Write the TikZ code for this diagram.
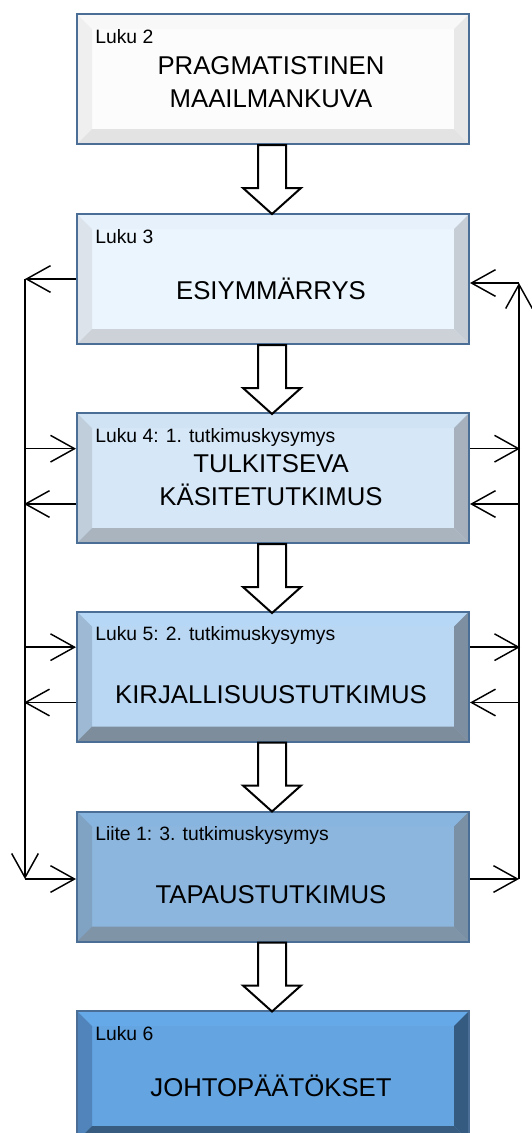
\documentclass[tikz,border=0pt]{standalone}
\usepackage{fontspec}
\setmainfont{Liberation Sans}
\usepackage{tikz}
\usetikzlibrary{arrows.meta}

\definecolor{edge}{HTML}{4A6E96}
% fill, top, left, right, bottom of each stage
\definecolor{sa}{HTML}{FCFCFC}\definecolor{sat}{HTML}{F8F8F8}\definecolor{sal}{HTML}{EFEFEF}\definecolor{sar}{HTML}{E8E8E8}\definecolor{sab}{HTML}{E3E3E3}
\definecolor{sb}{HTML}{EBF5FD}\definecolor{sbt}{HTML}{E6F1FB}\definecolor{sbl}{HTML}{DCE3EA}\definecolor{sbr}{HTML}{C6CDD5}\definecolor{sbb}{HTML}{CDD2D8}
\definecolor{sc}{HTML}{D6E7F8}\definecolor{sct}{HTML}{D0E3F5}\definecolor{scl}{HTML}{C0CEDC}\definecolor{scr}{HTML}{A6B1BD}\definecolor{scb}{HTML}{AAB4BF}
\definecolor{sd}{HTML}{B9D7F3}\definecolor{sdt}{HTML}{B6D7F6}\definecolor{sdl}{HTML}{9EB9D4}\definecolor{sdr}{HTML}{7E8FA1}\definecolor{sdb}{HTML}{7E8D9C}
\definecolor{se}{HTML}{8CB6DD}\definecolor{set}{HTML}{88B5E0}\definecolor{sel}{HTML}{80A3C4}\definecolor{ser}{HTML}{7A90A5}\definecolor{seb}{HTML}{8094A8}
\definecolor{sf}{HTML}{63A4E1}\definecolor{sft}{HTML}{65A9E8}\definecolor{sfl}{HTML}{5084BA}\definecolor{sfr}{HTML}{365B81}\definecolor{sfb}{HTML}{375C80}

\tikzset{
  stage/.style={draw=edge, line width=1.5pt, fill=#1, inner sep=0pt,
    minimum width=294pt, minimum height=97.5pt,
    path picture={
      \fill[#1t] (path picture bounding box.north west) -- (path picture bounding box.north east)
        -- ([xshift=-11.25pt,yshift=-11.25pt]path picture bounding box.north east)
        -- ([xshift=11.25pt,yshift=-11.25pt]path picture bounding box.north west) -- cycle;
      \fill[#1l] (path picture bounding box.north west) -- (path picture bounding box.south west)
        -- ([xshift=11.25pt,yshift=11.25pt]path picture bounding box.south west)
        -- ([xshift=11.25pt,yshift=-11.25pt]path picture bounding box.north west) -- cycle;
      \fill[#1r] (path picture bounding box.north east) -- (path picture bounding box.south east)
        -- ([xshift=-11.25pt,yshift=11.25pt]path picture bounding box.south east)
        -- ([xshift=-11.25pt,yshift=-11.25pt]path picture bounding box.north east) -- cycle;
      \fill[#1b] (path picture bounding box.south west) -- (path picture bounding box.south east)
        -- ([xshift=-11.25pt,yshift=11.25pt]path picture bounding box.south east)
        -- ([xshift=11.25pt,yshift=11.25pt]path picture bounding box.south west) -- cycle;
    }},
  tag/.style={inner sep=0pt, anchor=base west, font=\fontsize{14.5}{17}\selectfont},
  title/.style={inner sep=0pt, align=center, font=\fontsize{19.3}{24.75}\selectfont},
  blockarr/.style={draw=black, line width=1.5pt, fill=white, line join=miter},
  fb/.style={line width=1.1pt, >={Straight Barb[length=18pt,width=20pt]}},
  pics/flowarrow/.style={code={
    \draw[blockarr] (-14,0) -- (-14,43) -- (-29,43) -- (0,69) -- (29,43) -- (14,43) -- (14,0) -- cycle;
  }}
}

\begin{document}
\begin{tikzpicture}[x=0.75pt, y=-0.75pt]
  \useasboundingbox (0,0) rectangle (532,1133);

  % stages
  \node[stage=sa] (b1) at (273,79) {};
  \node[stage=sb] (b2) at (273,279) {};
  \node[stage=sc] (b3) at (273,478) {};
  \node[stage=sd] (b4) at (273,676.5) {};
  \node[stage=se] (b5) at (273,876.5) {};
  \node[stage=sf] (b6) at (273,1076) {};

  \node[tag] (l1) at ([xshift=14.25pt,yshift=-22.5pt]b1.north west) {Luku 2};
  \node[tag] (l2) at ([xshift=14.25pt,yshift=-22.5pt]b2.north west) {Luku 3};
  \node[tag] (l3) at ([xshift=14.25pt,yshift=-22.5pt]b3.north west) {Luku 4: 1. tutkimuskysymys};
  \node[tag] (l4) at ([xshift=14.25pt,yshift=-22.5pt]b4.north west) {Luku 5: 2. tutkimuskysymys};
  \node[tag] (l5) at ([xshift=14.25pt,yshift=-22.5pt]b5.north west) {Liite 1: 3. tutkimuskysymys};
  \node[tag] (l6) at ([xshift=14.25pt,yshift=-22.5pt]b6.north west) {Luku 6};

  \node[title] (t1) at ([xshift=-1.5pt,yshift=-2.25pt]b1.center) {PRAGMATISTINEN\\MAAILMANKUVA};
  \node[title, anchor=base] (t2) at ([xshift=-1.5pt,yshift=-15pt]b2.center) {ESIYMMÄRRYS};
  \node[title] (t3) at ([xshift=-1.5pt,yshift=-1.5pt]b3.center) {TULKITSEVA\\KÄSITETUTKIMUS};
  \node[title, anchor=base] (t4) at ([xshift=-1.5pt,yshift=-20.6pt]b4.center) {KIRJALLISUUSTUTKIMUS};
  \node[title, anchor=base] (t5) at ([xshift=-1.5pt,yshift=-19.9pt]b5.center) {TAPAUSTUTKIMUS};
  \node[title, anchor=base] (t6) at ([xshift=-1.5pt,yshift=-15pt]b6.center) {JOHTOPÄÄTÖKSET};

  % main flow
  \foreach \b in {b1,b2,b3,b4,b5}
    \pic at ([xshift=-0.75pt]\b.south) {flowarrow};

  % feedback loops
  \coordinate (ltop) at (25,279);
  \coordinate (lbot) at (25,879);
  \coordinate (rtop) at (519,283);
  \coordinate (rbot) at (519,879);

  \draw[fb,->] (b2.west |- ltop) -- (ltop);
  \draw[fb,->] (ltop) -- (lbot);
  \draw[fb,->] (lbot) -- (lbot -| b5.west);
  \draw[fb,->] (rtop) -- (rtop -| b2.east);
  \draw[fb,->] (rbot) -- (rtop);
  \draw[fb,->] (rbot -| b5.east) -- (rbot);

  \foreach \b in {b3,b4}{
    \draw[fb,<-] ([yshift=22pt]\b.west) -- ++(-52,0);
    \draw[fb,->] ([yshift=-19.5pt]\b.west) -- ++(-52,0);
    \draw[fb,->] ([yshift=22pt]\b.east) -- ++(50,0);
    \draw[fb,<-] ([yshift=-19.5pt]\b.east) -- ++(50,0);
  }
\end{tikzpicture}
\end{document}
